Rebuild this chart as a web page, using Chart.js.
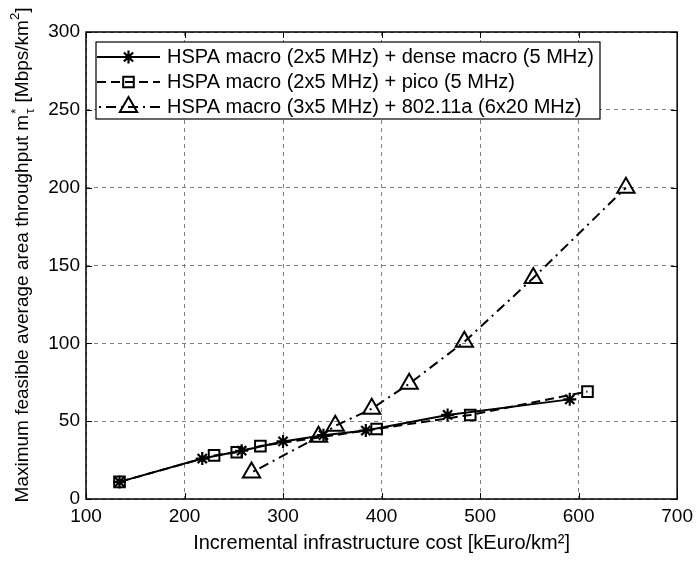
<!DOCTYPE html>
<html>
<head>
<meta charset="utf-8">
<script src="https://cdn.jsdelivr.net/npm/chart.js@4.4.1/dist/chart.umd.min.js"></script>
<style>
  html, body { margin: 0; padding: 0; background: #fff; }
  #wrap { width: 699px; height: 563px; }
</style>
</head>
<body>
<div id="wrap"><canvas id="chart" width="699" height="563"></canvas></div>
<script>
// cost in kEuro/km2, throughput in Mbps/km2
const costDense = [134, 218, 258, 300, 341, 384, 467, 591];
const tputDense = [11, 26, 31, 37, 41, 44, 54, 64];
const costPico = [134, 230, 253, 277, 395, 490, 609];
const tputPico = [11, 28, 30, 34, 45, 54, 69];
const costWlan = [268, 336, 353, 390, 428, 484, 554, 648];
const tputWlan = [17, 40, 47, 58, 74, 101, 142, 200];

const seriesLabels = [
  'HSPA macro (2x5 MHz) + dense macro (5 MHz)',
  'HSPA macro (2x5 MHz) + pico (5 MHz)',
  'HSPA macro (3x5 MHz) + 802.11a (6x20 MHz)',
];
const xTitle = 'Incremental infrastructure cost [kEuro/km²]';
// y title pieces: main text, superscript/subscript, unit, unit exponent
const yTitleMain = 'Maximum feasible average area throughput m';
const yTitleSup = '*';
const yTitleSub = 'τ';
const yTitleUnit = ' [Mbps/km';
const yTitleUnitExp = '2';
const yTitleEnd = ']';

const FONT = "'Liberation Sans', Arial, Helvetica, sans-serif";

const toPoints = (xs, ys) => xs.map((x, i) => ({ x, y: ys[i] }));

function markPoint(ctx, style, r, x, y) {
  if (Chart.helpers && Chart.helpers.drawPoint) {
    Chart.helpers.drawPoint(ctx, { pointStyle: style, radius: r, borderWidth: ctx.lineWidth, rotation: 0 }, x, y);
  }
}

// axes box + inward tick marks like matlab
const axesBox = {
  id: 'axesBox',
  afterDatasetsDraw(chart) {
    const { ctx, chartArea: a, scales } = chart;
    ctx.save();
    ctx.strokeStyle = '#000';
    ctx.lineWidth = 1;
    ctx.beginPath();
    scales.x.ticks.forEach(t => {
      const px = Math.round(scales.x.getPixelForValue(t.value)) + 0.5;
      ctx.moveTo(px, a.bottom); ctx.lineTo(px, a.bottom - 6);
      ctx.moveTo(px, a.top); ctx.lineTo(px, a.top + 6);
    });
    scales.y.ticks.forEach(t => {
      const py = Math.round(scales.y.getPixelForValue(t.value)) + 0.5;
      ctx.moveTo(a.left, py); ctx.lineTo(a.left + 6, py);
      ctx.moveTo(a.right, py); ctx.lineTo(a.right - 6, py);
    });
    ctx.stroke();
    ctx.lineWidth = 1.5;
    ctx.strokeRect(a.left, a.top, a.right - a.left, a.bottom - a.top);
    ctx.restore();
  },
};

const boxLegend = {
  id: 'boxLegend',
  afterDraw(chart, args, opts) {
    const ctx = chart.ctx;
    ctx.save();
    ctx.fillStyle = '#fff';
    ctx.fillRect(opts.left, opts.top, opts.width, opts.height);
    ctx.strokeStyle = '#000';
    ctx.lineWidth = 1.2;
    ctx.strokeRect(opts.left, opts.top, opts.width, opts.height);
    chart.data.datasets.forEach((ds, i) => {
      const yy = opts.rows[i];
      ctx.strokeStyle = ds.borderColor;
      ctx.lineWidth = ds.borderWidth;
      ctx.setLineDash(ds.borderDash || []);
      ctx.lineDashOffset = ds.borderDashOffset || 0;
      ctx.beginPath();
      ctx.moveTo(opts.x0, yy);
      ctx.lineTo(opts.x1, yy);
      ctx.stroke();
      ctx.setLineDash([]);
      ctx.lineWidth = ds.pointBorderWidth;
      ctx.fillStyle = 'rgba(0,0,0,0)';
      markPoint(ctx, ds.pointStyle, ds.pointRadius, (opts.x0 + opts.x1) / 2, yy);
      ctx.fillStyle = '#000';
      ctx.font = `${opts.fontSize}px ${FONT}`;
      ctx.textBaseline = 'middle';
      ctx.textAlign = 'left';
      ctx.fillText(ds.label, opts.textX, yy);
    });
    ctx.restore();
  },
};

const yTitle = {
  id: 'yTitle',
  afterDraw(chart, args, opts) {
    const ctx = chart.ctx;
    const big = `${opts.size}px ${FONT}`;
    const small = `${Math.round(opts.size * 0.7)}px ${FONT}`;
    ctx.save();
    ctx.fillStyle = '#000';
    ctx.textBaseline = 'alphabetic';
    ctx.textAlign = 'left';
    ctx.font = big;
    const w1 = ctx.measureText(yTitleMain).width;
    const w3 = ctx.measureText(yTitleUnit).width;
    const w5 = ctx.measureText(yTitleEnd).width;
    ctx.font = small;
    const w2 = Math.max(ctx.measureText(yTitleSup).width, ctx.measureText(yTitleSub).width) + 2;
    const w4 = ctx.measureText(yTitleUnitExp).width;
    const total = w1 + w2 + w3 + w4 + w5;
    ctx.translate(opts.x, opts.y);
    ctx.rotate(-Math.PI / 2);
    let cx = -total / 2;
    ctx.font = big;
    ctx.fillText(yTitleMain, cx, 0);
    cx += w1;
    ctx.font = small;
    ctx.fillText(yTitleSup, cx + 1, -8);
    ctx.fillText(yTitleSub, cx + 1, 6);
    cx += w2;
    ctx.font = big;
    ctx.fillText(yTitleUnit, cx, 0);
    cx += w3;
    ctx.font = small;
    ctx.fillText(yTitleUnitExp, cx, -9);
    cx += w4;
    ctx.font = big;
    ctx.fillText(yTitleEnd, cx, 0);
    ctx.restore();
  },
};

const clear = 'rgba(0,0,0,0)';

new Chart(document.getElementById('chart'), {
  type: 'line',
  data: {
    datasets: [
      {
        label: seriesLabels[0],
        data: toPoints(costDense, tputDense),
        borderColor: '#000',
        borderWidth: 2,
        pointStyle: 'star',
        pointRadius: 6.5,
        pointBorderWidth: 2.2,
        pointBorderColor: '#000',
        pointBackgroundColor: clear,
        tension: 0,
      },
      {
        label: seriesLabels[1],
        data: toPoints(costPico, tputPico),
        borderColor: '#000',
        borderWidth: 2,
        borderDash: [9, 5],
        pointStyle: 'rect',
        pointRadius: 7.5,
        pointBorderWidth: 2,
        pointBorderColor: '#000',
        pointBackgroundColor: clear,
        tension: 0,
      },
      {
        label: seriesLabels[2],
        data: toPoints(costWlan, tputWlan),
        borderColor: '#000',
        borderWidth: 2,
        borderDash: [10, 5, 2, 5],
        borderDashOffset: 13,
        pointStyle: 'triangle',
        pointRadius: 10,
        pointBorderWidth: 2,
        pointBorderColor: '#000',
        pointBackgroundColor: clear,
        tension: 0,
      },
    ],
  },
  options: {
    responsive: false,
    animation: false,
    layout: { padding: { left: 0, right: 18, top: 32, bottom: 0 } },
    plugins: {
      legend: { display: false },
      tooltip: { enabled: false },
      boxLegend: { left: 96, top: 42, width: 504, height: 77, x0: 97, x1: 160, textX: 167, rows: [57, 82, 107], fontSize: 20 },
      yTitle: { x: 28, y: 255, size: 19 },
    },
    scales: {
      x: {
        type: 'linear',
        min: 100,
        max: 700,
        afterFit(scale) { scale.height = 64; },
        ticks: { stepSize: 100, color: '#000', padding: 6, font: { family: FONT, size: 19 } },
        grid: { color: '#808080', lineWidth: 1, drawTicks: false },
        border: { display: false, dash: [4, 4] },
        title: { display: true, text: xTitle, color: '#000', font: { family: FONT, size: 20 }, padding: { top: 0, bottom: 8 } },
      },
      y: {
        type: 'linear',
        min: 0,
        max: 300,
        afterFit(scale) { scale.width = 86; },
        ticks: { stepSize: 50, color: '#000', padding: 6, font: { family: FONT, size: 19 } },
        grid: { color: '#808080', lineWidth: 1, drawTicks: false },
        border: { display: false, dash: [4, 4] },
      },
    },
  },
  plugins: [axesBox, boxLegend, yTitle],
});
</script>
</body>
</html>
